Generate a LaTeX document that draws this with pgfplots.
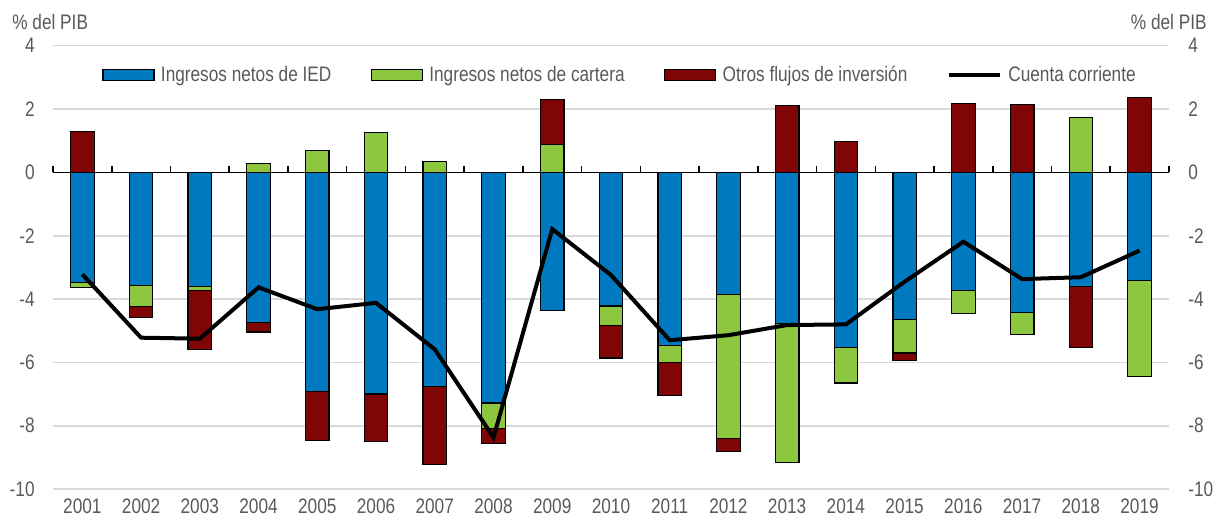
\documentclass[border=0pt]{standalone}
\usepackage{fontspec}
\setmainfont{Liberation Sans}[FakeStretch=0.82]
\usepackage{pgfplots}
\usepackage{pgfplotstable}
\pgfplotsset{compat=1.18}
\definecolor{cblue}{RGB}{0,121,193}
\definecolor{cgreen}{RGB}{141,198,63}
\definecolor{cred}{RGB}{128,5,5}
\definecolor{ctext}{RGB}{89,89,89}
\definecolor{cgrid}{RGB}{217,217,217}

\pgfplotstableread{
yr   iedn  cartn otrosn cartp otrosp cc
2001 -3.48 -0.15  0     0     1.28  -3.22
2002 -3.58 -0.65 -0.34  0     0     -5.22
2003 -3.60 -0.12 -1.88  0     0     -5.25
2004 -4.73  0    -0.31  0.28  0     -3.63
2005 -6.91  0    -1.55  0.68  0     -4.32
2006 -7.00  0    -1.49  1.25  0     -4.12
2007 -6.75  0    -2.48  0.34  0     -5.59
2008 -7.28 -0.81 -0.48  0     0     -8.37
2009 -4.35  0     0     0.88  1.41  -1.79
2010 -4.22 -0.61 -1.03  0     0     -3.24
2011 -5.46 -0.54 -1.05  0     0     -5.30
2012 -3.85 -4.54 -0.42  0     0     -5.14
2013 -4.77 -4.39  0     0     2.12  -4.82
2014 -5.52 -1.13  0     0     0.97  -4.80
2015 -4.65 -1.05 -0.24  0     0     -3.45
2016 -3.73 -0.73  0     0     2.17  -2.19
2017 -4.42 -0.69  0     0     2.15  -3.37
2018 -3.61  0    -1.91  1.73  0     -3.31
2019 -3.42 -3.03  0     0     2.36  -2.47
}\data

\pgfplotsset{common/.style={
  scale only axis, width=558pt, height=221.7pt,
  at={(0,0)}, anchor=south west,
  xmin=2000.5, xmax=2019.5, ymin=-10, ymax=4,
  ytick={-10,-8,...,4},
  /pgf/number format/assume math mode=true,
  /pgf/number format/1000 sep={},
  tick label style={font=\fontsize{10.5}{12}\selectfont, text=ctext},
  major tick length=0pt,
  axis line style={draw=none},
  bar width=0.4,
}}

\begin{document}
\begin{tikzpicture}
\useasboundingbox (-26.5pt,-15pt) rectangle (584.5pt,244.55pt);
% negative stacks, grid, left and bottom labels
\begin{axis}[common, ybar stacked,
  ymajorgrids, grid style={cgrid, line width=0.8pt},
  xtick={2001,2002,...,2019},
  xticklabel style={anchor=north, inner sep=0pt, yshift=-4.65pt},
  yticklabel style={anchor=east, inner sep=0pt, xshift=-9pt},
]
\addplot[fill=cblue, draw=black, line width=0.6pt] table[x=yr,y=iedn]{\data};
\addplot[fill=cgreen, draw=black, line width=0.6pt] table[x=yr,y=cartn]{\data};
\addplot[fill=cred, draw=black, line width=0.6pt] table[x=yr,y=otrosn]{\data};
\end{axis}
% positive stacks, right labels
\begin{axis}[common, ybar stacked,
  xtick=\empty,
  yticklabel pos=right,
  yticklabel style={anchor=west, inner sep=0pt, xshift=9.5pt},
]
\addplot[fill=cgreen, draw=black, line width=0.6pt] table[x=yr,y=cartp]{\data};
\addplot[fill=cred, draw=black, line width=0.6pt] table[x=yr,y=otrosp]{\data};
\end{axis}
% zero line, current account, legend
\begin{axis}[common, xtick=\empty, ytick=\empty, clip=false,
  legend columns=4,
  legend style={at={(0.0439,0.934)}, anchor=west, draw=none, fill=none,
    inner sep=0pt, font=\fontsize{10.5}{12}\selectfont, text=ctext,
    /tikz/every even column/.append style={column sep=17.7pt}},
  legend cell align=left,
]
\addlegendimage{legend image code/.code={\draw[fill=cblue,draw=black,line width=0.6pt] (0pt,-2.75pt) rectangle (25.5pt,2.75pt); \path (26.8pt,0pt);}}
\addlegendentry{Ingresos netos de IED}
\addlegendimage{legend image code/.code={\draw[fill=cgreen,draw=black,line width=0.6pt] (0pt,-2.75pt) rectangle (25.5pt,2.75pt); \path (26.8pt,0pt);}}
\addlegendentry{Ingresos netos de cartera}
\addlegendimage{legend image code/.code={\draw[fill=cred,draw=black,line width=0.6pt] (0pt,-2.75pt) rectangle (25.5pt,2.75pt); \path (26.8pt,0pt);}}
\addlegendentry{Otros flujos de inversión}
\draw[black, line width=0.8pt] (axis cs:2000.5,0) -- (axis cs:2019.5,0);
\pgfplotsinvokeforeach{2000.5,2001.5,...,2019.5}{\draw[black, line width=0.8pt] (axis cs:#1,0) -- ++(0pt,3.3pt);}
\addplot[black, line width=2pt, mark=none, legend image code/.code={\draw[black,line width=2pt] (0pt,0pt) -- (25.5pt,0pt); \path (26.8pt,0pt);}] table[x=yr,y=cc]{\data};
\addlegendentry{Cuenta corriente}
\node[anchor=west, inner sep=0pt, font=\fontsize{10.5}{12}\selectfont, text=ctext, xshift=-20.5pt, yshift=12pt] at (rel axis cs:0,1) {\% del PIB};
\node[anchor=east, inner sep=0pt, font=\fontsize{10.5}{12}\selectfont, text=ctext, xshift=19pt, yshift=12pt] at (rel axis cs:1,1) {\% del PIB};
\end{axis}
\end{tikzpicture}
\end{document}
